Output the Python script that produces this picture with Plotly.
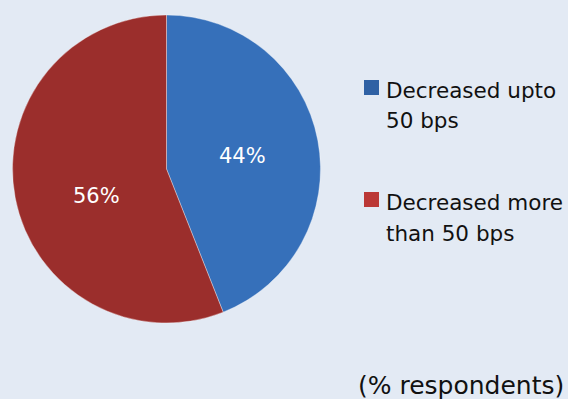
import plotly.graph_objects as go

# Survey responses: change in lending rates
categories = ["Decreased upto 50 bps", "Decreased more than 50 bps"]
legend_lines = [["Decreased upto", "50 bps"], ["Decreased more", "than 50 bps"]]
shares = [44, 56]
colors = ["#3670ba", "#9b2e2c"]
legend_colors = ["#2f61a4", "#bb3836"]
note = "(% respondents)"

W, H = 568, 399
BG = "#e3eaf4"
FONT = "'DejaVu Sans', 'Open Sans', sans-serif"

fig = go.Figure()
fig.add_trace(go.Pie(
    labels=categories,
    values=shares,
    sort=False,
    direction="clockwise",
    rotation=0,
    marker=dict(colors=colors, line=dict(color="rgba(255,255,255,0.35)", width=1)),
    textinfo="none",
    showlegend=False,
    hoverinfo="label+percent",
    domain=dict(x=[12 / W, 321 / W], y=[1 - 323 / H, 1 - 15 / H]),
))

annotations = []

# Percentage labels placed inside each slice
label_pos = [(242, 156), (96, 196)]
for (px, py), v in zip(label_pos, shares):
    annotations.append(dict(text=f"{v}%", xref="paper", yref="paper",
                            x=px / W, y=1 - py / H, xanchor="center", yanchor="middle",
                            showarrow=False, font=dict(family=FONT, size=21, color="white")))

# Legend drawn as square swatches with two-line captions
shapes = []
item_tops = [80, 192]
for top, lines, col in zip(item_tops, legend_lines, legend_colors):
    shapes.append(dict(type="rect", xref="paper", yref="paper",
                       x0=364 / W, x1=379 / W, y0=1 - (top + 15) / H, y1=1 - top / H,
                       fillcolor=col, line=dict(width=0)))
    for i, line in enumerate(lines):
        annotations.append(dict(text=line, xref="paper", yref="paper",
                                x=384 / W, y=1 - (top + 10 + 31 * i) / H,
                                xanchor="left", yanchor="middle", showarrow=False,
                                font=dict(family=FONT, size=21.5, color="#111111")))

annotations.append(dict(text=note, xref="paper", yref="paper",
                        x=566 / W, y=1 - 385 / H, xanchor="right", yanchor="middle",
                        showarrow=False, font=dict(family=FONT, size=25, color="#111111")))

fig.update_layout(
    width=W, height=H,
    margin=dict(l=0, r=0, t=0, b=0),
    paper_bgcolor=BG, plot_bgcolor=BG,
    shapes=shapes, annotations=annotations,
)

fig.write_html("out.html")
